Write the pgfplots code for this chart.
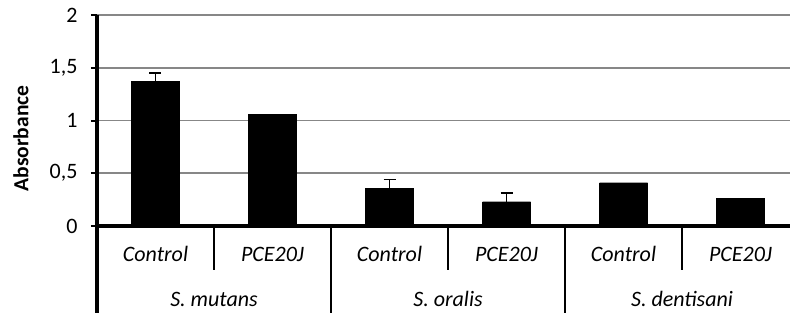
\documentclass[border=0pt]{standalone}
\usepackage{pgfplots}
\pgfplotsset{compat=1.18}
\usepackage{fontspec}
\setmainfont{Carlito}
\definecolor{gridgray}{RGB}{135,135,135}
\begin{document}
\begin{tikzpicture}
\begin{axis}[
  name=ax,
  scale only axis,
  width=702pt, height=211pt,
  xmin=-0.5, xmax=5.5,
  ymin=0, ymax=2,
  clip=false,
  axis lines*=left,
  axis line style={line width=3.2pt, black},
  x axis line style={line width=3.2pt},
  y axis line style={line width=3.2pt},
  ytick={0,0.5,1,1.5,2},
  ymajorgrids,
  grid style={line width=1.8pt, gridgray},
  tick align=outside,
  major tick length=6pt,
  major tick style={line width=2pt, black},
  major x tick style={draw=none},
  xtick={0,1,2,3,4,5},
  xticklabels={Control,PCE20J,Control,PCE20J,Control,PCE20J},
  xticklabel style={font=\fontsize{22}{26}\selectfont\itshape, anchor=base, yshift=-29pt},
  yticklabel style={font=\fontsize{22}{26}\selectfont, xshift=-10pt},
  /pgf/number format/.cd, use comma, assume math mode=true,
]
\addplot[ybar, bar width=48pt, bar shift=0pt, fill=black, draw=black,
  error bars/.cd, y dir=plus, y explicit,
  error bar style={line width=1.6pt, black},
  error mark options={rotate=90, mark size=6pt, line width=1.6pt, black}]
  coordinates {(0,1.37) +- (0,0.08) (2,0.36) +- (0,0.08) (3,0.23) +- (0,0.08)};
\addplot[ybar, bar width=48pt, bar shift=0pt, fill=black, draw=black]
  coordinates {(1,1.06) (4,0.41) (5,0.26)};
\draw[line width=2.8pt] (axis cs:0.5,0) -- ++(0pt,-44pt);
\draw[line width=2.8pt] (axis cs:2.5,0) -- ++(0pt,-44pt);
\draw[line width=2.8pt] (axis cs:4.5,0) -- ++(0pt,-44pt);
\draw[line width=3.2pt] (axis cs:-0.5,0) -- ++(0pt,-87pt);
\draw[line width=2.8pt] (axis cs:1.5,0) -- ++(0pt,-87pt);
\draw[line width=2.8pt] (axis cs:3.5,0) -- ++(0pt,-87pt);
\draw[line width=2.8pt] (axis cs:5.5,0) -- ++(0pt,-87pt);
\node[font=\fontsize{22}{26}\selectfont\itshape, anchor=base] at ([yshift=-80pt]axis cs:0.5,0) {S. mutans};
\node[font=\fontsize{22}{26}\selectfont\itshape, anchor=base] at ([yshift=-80pt]axis cs:2.5,0) {S. oralis};
\node[font=\fontsize{22}{26}\selectfont\itshape, anchor=base] at ([yshift=-80pt]axis cs:4.5,0) {S. dentisani};
\end{axis}
\node[rotate=90, font=\fontsize{21.5}{25}\selectfont\bfseries] at (-76pt,87.5pt) {Absorbance};
\pgfresetboundingbox
\useasboundingbox (-97pt,-90pt) rectangle (693pt,226pt);
\end{tikzpicture}
\end{document}
